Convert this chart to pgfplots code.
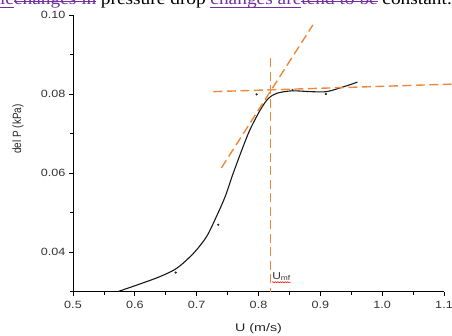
\documentclass[border=0pt]{standalone}
\usepackage{fontspec}
\usepackage{pgfplots}
\pgfplotsset{compat=1.18}
\usetikzlibrary{decorations.pathmorphing}
\setmainfont{Liberation Sans}
\newfontfamily\serif{Liberation Serif}
\definecolor{orng}{HTML}{F0883A}
\definecolor{purp}{HTML}{7030A0}
\begin{document}
\begin{tikzpicture}[x=1pt,y=1pt]
\useasboundingbox (0,0) rectangle (452,335);
\begin{scope}
\clip (0,0) rectangle (452,335);
\begin{scope}[xscale=1.14, transform shape]
\tikzset{tt/.style={anchor=base west, inner sep=0pt, outer sep=0pt, font=\serif\fontsize{17}{20}\selectfont}}
\node[tt, text=purp] (a) at (0,330) {le};
\node[tt, text=purp] (b) at (a.base east) {changes in};
\node[tt] (c) at ([xshift=4pt]b.base east) {pressure drop};
\node[tt, text=purp] (d) at ([xshift=4pt]c.base east) {changes are};
\node[tt, text=purp] (e) at (d.base east) {tend to be};
\node[tt] (f) at ([xshift=4pt]e.base east) {constant.};
\draw[purp, line width=0.8pt] ([yshift=-2.5pt]a.base west) -- ([yshift=-2.5pt]a.base east);
\draw[purp, line width=0.8pt] ([yshift=4pt]b.base west) -- ([yshift=4pt]b.base east);
\draw[purp, line width=0.8pt] ([yshift=-2.5pt]d.base west) -- ([yshift=-2.5pt]d.base east);
\draw[purp, line width=0.8pt] ([yshift=4pt]e.base west) -- ([yshift=4pt]e.base east);
\end{scope}
\end{scope}
\begin{axis}[
  at={(73pt,43.5pt)}, anchor=south west,
  scale only axis, width=371pt, height=276.5pt,
  xmin=0.5, xmax=1.1, ymin=0.03, ymax=0.10,
  axis x line=bottom, axis y line=left,
  axis line style={-, line width=0.9pt},
  xtick={0.5,0.6,0.7,0.8,0.9,1.0,1.1},
  minor xtick={0.55,0.65,0.75,0.85,0.95,1.05},
  ytick={0.04,0.06,0.08,0.10},
  minor ytick={0.03,0.05,0.07,0.09},
  tick align=outside,
  major tick length=4pt, minor tick length=3pt,
  tick style={black, line width=0.8pt},
  /pgf/number format/assume math mode=true,
  xticklabel={\scalebox{1.2}[1]{\pgfmathprintnumber[fixed,fixed zerofill,precision=1]{\tick}}},
  yticklabel={\scalebox{1.2}[1]{\pgfmathprintnumber[fixed,fixed zerofill,precision=2]{\tick}}},
  ticklabel style={font=\fontsize{10.5}{12}\selectfont, text=black!80},
  xticklabel style={yshift=-2pt},
  clip=false,
]
\addplot[black!90, line width=1.1pt, smooth, tension=0.5] coordinates {
 (0.573,0.0300) (0.610,0.0320) (0.641,0.0338) (0.668,0.0359) (0.695,0.0397)
 (0.716,0.0439) (0.732,0.0490) (0.746,0.0540) (0.759,0.0599) (0.773,0.0658)
 (0.786,0.0709) (0.803,0.0760) (0.816,0.0789) (0.830,0.0802) (0.854,0.0808)
 (0.884,0.0806) (0.910,0.0806) (0.937,0.0818) (0.960,0.0830)};
\addplot[only marks, mark=*, mark size=0.9pt, black!85] coordinates {
 (0.666,0.0348) (0.735,0.0469) (0.797,0.0799) (0.855,0.0810) (0.909,0.0800)};
\addplot[orng, line width=1.4pt, dash pattern=on 9pt off 4.5pt] coordinates {(0.819,0.0890) (0.819,0.0300)};
\addplot[orng, line width=1.4pt, dash pattern=on 9pt off 4.5pt] coordinates {(0.727,0.0806) (1.112,0.0825)};
\addplot[orng, line width=1.4pt, dash pattern=on 9pt off 4.5pt] coordinates {(0.740,0.0613) (0.888,0.0975)};
\node[anchor=base west, inner sep=0pt, font=\fontsize{10}{11}\selectfont, text=black!80] (um) at (axis cs:0.822,0.0331) {\scalebox{1.2}[1]{U\raisebox{-1.5pt}{\fontsize{7}{8}\selectfont mf}}};
\draw[red, line width=0.5pt, decorate, decoration={snake, amplitude=0.6pt, segment length=2.5pt}] ([yshift=-3pt]um.base west) -- ([yshift=-3pt]um.base east);
\end{axis}
\node[anchor=base, inner sep=0pt, font=\fontsize{11}{13}\selectfont, text=black!85] at (258.5,4) {\scalebox{1.3}[1]{U (m/s)}};
\node[rotate=90, anchor=center, inner sep=0pt, font=\fontsize{10}{12}\selectfont, text=black!85] at (18,206) {\scalebox{1}[1.2]{del P (kPa)}};
\end{tikzpicture}
\end{document}
